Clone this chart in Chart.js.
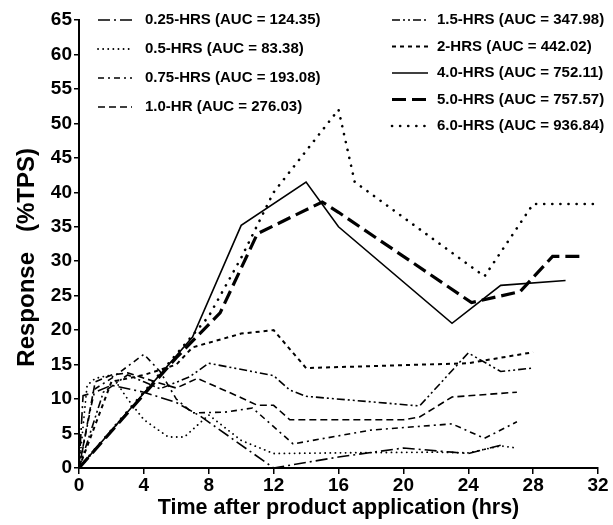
<!DOCTYPE html>
<html>
<head>
<meta charset="utf-8">
<script src="https://cdn.jsdelivr.net/npm/chart.js@4"></script>
<style>
  html, body { margin: 0; padding: 0; background: #fff; }
  #wrap { width: 613px; height: 525px; }
</style>
</head>
<body>
<div id="wrap"><canvas id="chart" width="613" height="525"></canvas></div>
<script>
// series labels
const seriesLabels = [
    '0.25-HRS (AUC = 124.35)',
    '0.5-HRS (AUC = 83.38)',
    '0.75-HRS (AUC = 193.08)',
    '1.0-HR (AUC = 276.03)',
    '1.5-HRS (AUC = 347.98)',
    '2-HRS (AUC = 442.02)',
    '4.0-HRS (AUC = 752.11)',
    '5.0-HRS (AUC = 757.57)',
    '6.0-HRS (AUC = 936.84)'
];

// time (hrs) and response (%TPS)
const t025 = [0, 0.25, 1, 2, 4, 6, 7.5, 12, 16, 20, 23, 24, 26];
const v025 = [0, 10.5, 11, 12, 11, 9.5, 7.5, 0, 1.6, 2.9, 2.3, 2.1, 3.3];

const t05 = [0, 0.5, 1, 2, 3, 4, 5.5, 6.5, 8, 10, 12, 16, 22, 24, 26, 27];
const v05 = [0, 12, 13, 13.5, 10, 7, 4.5, 4.5, 7.7, 4, 2.1, 2.2, 2.3, 2.2, 3.2, 2.9];

const t075 = [0, 0.75, 1, 2, 4, 5, 6, 7, 9, 10.7, 12, 13.2, 18, 23, 25, 27];
const v075 = [0, 9, 11.5, 13, 16.5, 14, 10, 8, 8.1, 8.7, 6, 3.5, 5.5, 6.4, 4.3, 6.7];

const t10 = [0, 1, 2, 3, 5, 6, 7.3, 10, 11, 12, 13, 20, 21, 23, 27];
const v10 = [0, 12.5, 13.5, 13.8, 12.3, 11.6, 13, 10.2, 9.1, 9.1, 7, 7, 7.4, 10.3, 11];

const t15 = [0, 1.5, 3, 4, 5, 6.8, 8, 12, 13, 14, 21, 24, 26, 28];
const v15 = [0, 11, 13.5, 12.5, 11.5, 13.2, 15.2, 13.4, 11.3, 10.4, 9, 16.7, 14, 14.5];

const t20 = [0, 2, 4, 6, 7, 10, 12, 14, 24, 28];
const v20 = [0, 12.5, 13.5, 15, 17.5, 19.5, 20, 14.5, 15.2, 16.8];

const t40 = [0, 7, 10, 14, 16, 23, 26, 30];
const v40 = [0, 19, 35.2, 41.5, 35, 21, 26.5, 27.2];

const t50 = [0, 6, 8.7, 11, 15, 16, 24.2, 27.2, 29.2, 31];
const v50 = [0, 16, 22.5, 34, 38.6, 37.1, 24, 25.6, 30.7, 30.7];

const t60 = [0, 8, 10, 12, 14, 16, 17, 25, 28, 32];
const v60 = [0, 22, 30.5, 40, 46, 52, 41.5, 27.8, 38.3, 38.3];

const xTicks = [0, 4, 8, 12, 16, 20, 24, 28, 32];
const yTicks = [0, 5, 10, 15, 20, 25, 30, 35, 40, 45, 50, 55, 60, 65];

const times = [t025, t05, t075, t10, t15, t20, t40, t50, t60];
const values = [v025, v05, v075, v10, v15, v20, v40, v50, v60];

// line styles (dash, width, cap)
const dashes = [[12, 4, 2, 4], [0.1, 5], [6, 4, 2, 4], [7, 4], [8, 3, 2, 3, 2, 3], [4, 4], [], [14, 6], [0.1, 8]];
const widths = [1.6, 1.8, 1.6, 1.6, 1.6, 2, 1.6, 3.2, 2.6];
const caps = ['butt', 'round', 'butt', 'butt', 'butt', 'butt', 'butt', 'butt', 'round'];

const FONT = '"Liberation Sans", Arial, sans-serif';

function pts(ts, vs) {
    return ts.map((t, i) => ({ x: t, y: vs[i] }));
}

const datasets = seriesLabels.map((lab, i) => ({
    label: lab,
    data: pts(times[i], values[i]),
    borderColor: '#000',
    borderWidth: widths[i],
    borderDash: dashes[i],
    borderCapStyle: caps[i],
    pointRadius: 0,
    tension: 0,
    fill: false
}));

// two-column legend inside the plot
const legendCols = {
    id: 'legendCols',
    afterDraw(chart) {
        const ctx = chart.ctx;
        ctx.save();
        chart.data.datasets.forEach((ds, i) => {
            const right = i >= 4;
            const row = right ? i - 4 : i;
            const x0 = right ? 392 : 98;
            const x1 = right ? 428 : 132;
            const y = right ? 20 + row * 26.5 : 20 + row * 29;
            ctx.beginPath();
            ctx.setLineDash(ds.borderDash);
            ctx.lineWidth = ds.borderWidth;
            ctx.lineCap = ds.borderCapStyle;
            ctx.strokeStyle = '#000';
            ctx.moveTo(x0, y);
            ctx.lineTo(x1, y);
            ctx.stroke();
            ctx.setLineDash([]);
            ctx.fillStyle = '#000';
            ctx.font = 'bold 15px ' + FONT;
            ctx.textBaseline = 'middle';
            ctx.textAlign = 'left';
            ctx.fillText(ds.label, x1 + (right ? 9 : 13), y);
        });
        ctx.restore();
    }
};

new Chart(document.getElementById('chart'), {
    type: 'line',
    data: { datasets: datasets },
    plugins: [legendCols],
    options: {
        responsive: false,
        animation: false,
        layout: { padding: { top: 20, right: 15, bottom: 0, left: 0 } },
        plugins: { legend: { display: false }, tooltip: { enabled: false } },
        scales: {
            x: {
                type: 'linear',
                min: 0,
                max: 32,
                afterFit: (s) => { s.height = 57; },
                afterBuildTicks: (s) => { s.ticks = xTicks.map(v => ({ value: v })); },
                grid: { drawOnChartArea: false, tickLength: 6, color: '#000', lineWidth: 1.5 },
                border: { color: '#000', width: 2 },
                ticks: { color: '#000', padding: 0, maxRotation: 0, font: { family: FONT, size: 19, weight: 'bold' } },
                title: {
                    display: true,
                    text: 'Time after product application (hrs)',
                    color: '#000',
                    padding: { top: 0, bottom: 4 },
                    font: { family: FONT, size: 21.5, weight: 'bold' }
                }
            },
            y: {
                min: 0,
                max: 65,
                afterFit: (s) => { s.width = 79; },
                afterBuildTicks: (s) => { s.ticks = yTicks.map(v => ({ value: v })); },
                grid: { drawOnChartArea: false, tickLength: 5, color: '#000', lineWidth: 1.5 },
                border: { color: '#000', width: 2 },
                ticks: { color: '#000', padding: 2, font: { family: FONT, size: 19, weight: 'bold' } },
                title: {
                    display: true,
                    text: 'Response   (%TPS)    ',
                    color: '#000',
                    padding: { top: 13, bottom: 0 },
                    font: { family: FONT, size: 24, weight: 'bold' }
                }
            }
        }
    }
});
</script>
</body>
</html>
